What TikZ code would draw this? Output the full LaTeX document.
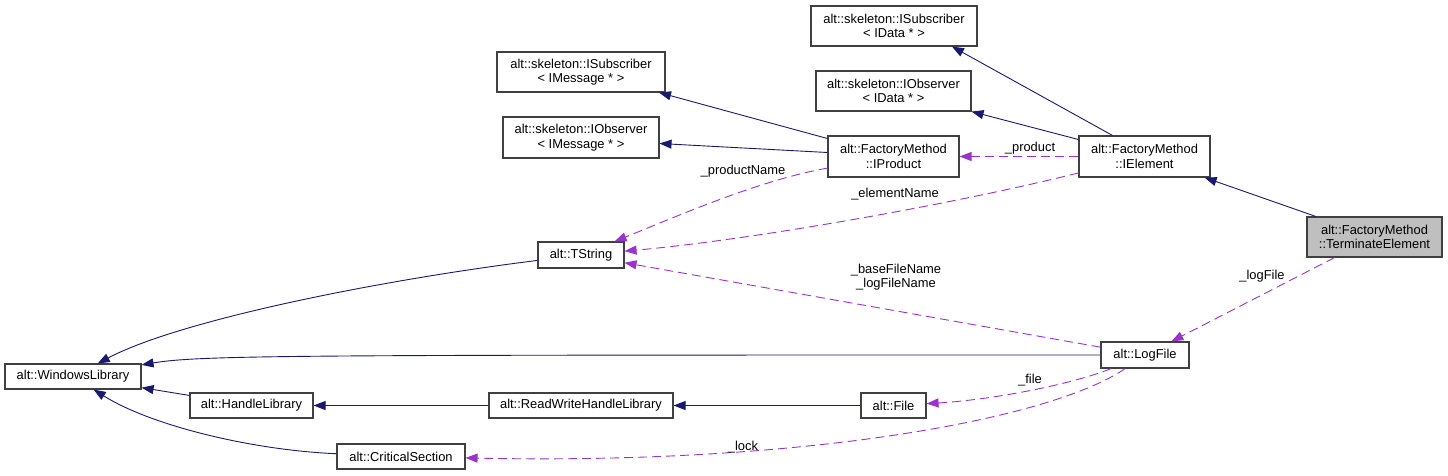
\documentclass[tikz,border=0pt]{standalone}
\usepackage{fontspec}
\setmainfont{Liberation Sans}
\usetikzlibrary{arrows.meta,positioning,calc}
\definecolor{dxblue}{HTML}{191970}
\definecolor{dxpurple}{HTML}{9A32CD}
\definecolor{dxgray}{HTML}{BFBFBF}

\begin{document}
\begin{tikzpicture}[
  x=1pt,y=-1pt,
  classnode/.style={draw=black!75,line width=1.1pt,fill=white,
    font=\fontsize{12.9}{14.5}\selectfont,align=center,inner sep=0pt},
  inherit/.style={-{Triangle[length=12pt,width=9pt]},dxblue,line width=0.9pt},
  usage/.style={-{Triangle[length=12pt,width=9pt]},dxpurple,line width=0.9pt,
    dash pattern=on 9pt off 5pt},
  lbl/.style={font=\fontsize{12.9}{14.5}\selectfont,align=center,inner sep=0pt}
]
  \useasboundingbox (0,0) rectangle (1448,475);
  % Main class
  \node[classnode,fill=dxgray,minimum width=135pt,minimum height=40pt] (termelem) at (1374.5,237) {alt::FactoryMethod\\::TerminateElement};
  % Interfaces
  \node[classnode,minimum width=131pt,minimum height=41pt] (ielem) at (1144.5,156.5) {alt::FactoryMethod\\::IElement};
  \node[classnode,minimum width=131pt,minimum height=41pt] (iprod) at (893.5,156.5) {alt::FactoryMethod\\::IProduct};
  \node[classnode,minimum width=166pt,minimum height=40pt] (isubdata) at (894,26) {alt::skeleton::ISubscriber\\< IData * >};
  \node[classnode,minimum width=155pt,minimum height=40pt] (iobsdata) at (893.5,91) {alt::skeleton::IObserver\\< IData * >};
  \node[classnode,minimum width=168pt,minimum height=40pt] (isubmsg) at (581,72) {alt::skeleton::ISubscriber\\< IMessage * >};
  \node[classnode,minimum width=156pt,minimum height=41pt] (iobsmsg) at (581,137.5) {alt::skeleton::IObserver\\< IMessage * >};
  % Library classes
  \node[classnode,minimum width=86pt,minimum height=26pt] (tstring) at (581,255) {alt::TString};
  \node[classnode,minimum width=88pt,minimum height=26pt] (logfile) at (1145,355) {alt::LogFile};
  \node[classnode,minimum width=136pt,minimum height=25pt] (winlib) at (73,376.5) {alt::WindowsLibrary};
  \node[classnode,minimum width=123pt,minimum height=25pt] (hlib) at (251.5,405.5) {alt::HandleLibrary};
  \node[classnode,minimum width=184pt,minimum height=25pt] (rwhlib) at (581,405.5) {alt::ReadWriteHandleLibrary};
  \node[classnode,minimum width=65pt,minimum height=25pt] (file) at (893.5,405.5) {alt::File};
  \node[classnode,minimum width=128pt,minimum height=25pt] (csec) at (401,456.5) {alt::CriticalSection};
  % Inheritance
  \draw[inherit] (termelem) -- (ielem);
  \draw[inherit] ($(ielem.north)+(-32,0)$) -- ($(isubdata.south)+(58,0)$);
  \draw[inherit] ($(ielem.west)+(0,-17)$) -- (iobsdata.south east);
  \draw[inherit] ($(iprod.west)+(0,-18)$) -- ($(isubmsg.south)+(78,0)$);
  \draw[inherit] ($(iprod.west)+(0,-4)$) -- ($(iobsmsg.east)+(0,6)$);
  \draw[inherit] (tstring) .. controls (380,280) and (180,320) .. (winlib);
  \draw[inherit] (logfile) .. controls (300,355) and (200,355) .. (winlib);
  \draw[inherit] (hlib) -- (winlib);
  \draw[inherit] (csec) .. controls (250,450) and (150,425) .. (winlib);
  \draw[inherit] (rwhlib) -- (hlib);
  \draw[inherit] (file) -- (rwhlib);
  % Members
  \draw[usage] (ielem) -- (iprod);
  \draw[usage] (iprod) .. controls (760,180) and (680,215) .. (tstring);
  \draw[usage] (ielem) .. controls (950,205) and (750,240) .. (tstring);
  \draw[usage] (logfile) -- (tstring);
  \draw[usage] (termelem) -- (logfile);
  \draw[usage] (logfile) .. controls (1070,385) and (990,400) .. (file);
  \draw[usage] (logfile) .. controls (1050,420) and (800,465) .. (csec);
  % Member names
  \node[lbl] (lproduct) at (1030,148) {\_product};
  \node[lbl] (lprodname) at (743,171) {\_productName};
  \node[lbl] (lelemname) at (895,194) {\_elementName};
  \node[lbl] (lfilenames) at (896,277) {\_baseFileName\\\_logFileName};
  \node[lbl] (llogfile) at (1262,276) {\_logFile};
  \node[lbl] (lfile) at (1030,380) {\_file};
  \node[lbl] (llock) at (743,447) {\_lock};
\end{tikzpicture}
\end{document}
